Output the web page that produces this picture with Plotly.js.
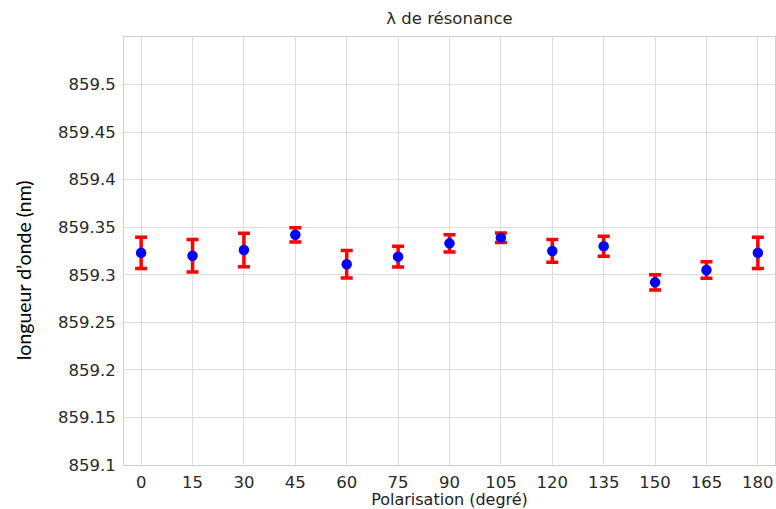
<!DOCTYPE html>
<html>
<head>
<meta charset="utf-8">
<script src="https://cdn.plot.ly/plotly-3.0.1.min.js"></script>
<style>html,body{margin:0;padding:0;background:#fff;}#chart{width:776px;height:509px;}</style>
</head>
<body>
<div id="chart"></div>
<script>
const polarisation = [0, 15, 30, 45, 60, 75, 90, 105, 120, 135, 150, 165, 180];
const longueurOnde = [859.323, 859.320, 859.326, 859.342, 859.311, 859.319, 859.333, 859.339, 859.325, 859.330, 859.292, 859.305, 859.323];
const incertitude = [0.0165, 0.017, 0.0175, 0.0075, 0.0145, 0.011, 0.009, 0.005, 0.012, 0.0105, 0.008, 0.0087, 0.0165];
const yTicks = [859.1, 859.15, 859.2, 859.25, 859.3, 859.35, 859.4, 859.45, 859.5];
const yTickLabels = ["859.1", "859.15", "859.2", "859.25", "859.3", "859.35", "859.4", "859.45", "859.5"];

const trace = {
  x: polarisation,
  y: longueurOnde,
  type: 'scatter',
  mode: 'markers',
  marker: {color: '#0000ff', size: 10.5},
  error_y: {type: 'data', array: incertitude, visible: true, color: '#ff0000', thickness: 3.5, width: 6},
  hoverinfo: 'x+y'
};

const tickFont = {family: 'DejaVu Sans, Liberation Sans, Arial, sans-serif', size: 16.5, color: '#2a2a2a'};

const layout = {
  width: 776,
  height: 509,
  margin: {l: 124, r: 1, t: 37, b: 44},
  paper_bgcolor: '#ffffff',
  plot_bgcolor: '#ffffff',
  showlegend: false,
  title: {
    text: 'λ de résonance',
    font: {family: 'DejaVu Sans, Liberation Sans, Arial, sans-serif', size: 16.5, color: '#2a2a2a'},
    x: 0.5, xref: 'paper', xanchor: 'center',
    y: 1 - 18/509, yref: 'container', yanchor: 'middle'
  },
  xaxis: {
    range: [-5, 185],
    tickvals: polarisation,
    ticktext: polarisation.map(String),
    ticks: 'outside', ticklen: 2, tickcolor: 'rgba(0,0,0,0)',
    tickfont: tickFont,
    showgrid: true, gridcolor: '#dedede', gridwidth: 1,
    showline: true, linecolor: '#cfcfcf', linewidth: 1, mirror: true,
    zeroline: false,
    title: {text: 'Polarisation (degré)', font: {family: 'DejaVu Sans, Liberation Sans, Arial, sans-serif', size: 16, color: '#222222'}, standoff: 3}
  },
  yaxis: {
    range: [859.1, 859.5499],
    tickvals: yTicks,
    ticktext: yTickLabels,
    ticks: 'outside', ticklen: 4, tickcolor: 'rgba(0,0,0,0)',
    tickfont: tickFont,
    showgrid: true, gridcolor: '#dedede', gridwidth: 1,
    showline: true, linecolor: '#cfcfcf', linewidth: 1, mirror: true,
    zeroline: false
  },
  annotations: [{
    text: 'longueur d’onde (nm)',
    textangle: -90,
    xref: 'paper', x: 0, xanchor: 'center', xshift: -101,
    yref: 'paper', y: 0.455, yanchor: 'middle',
    showarrow: false,
    font: {family: 'Lato, Liberation Sans, Arial, sans-serif', size: 19.5, color: '#000000'}
  }]
};

Plotly.newPlot('chart', [trace], layout, {displayModeBar: false, staticPlot: true});
</script>
</body>
</html>
